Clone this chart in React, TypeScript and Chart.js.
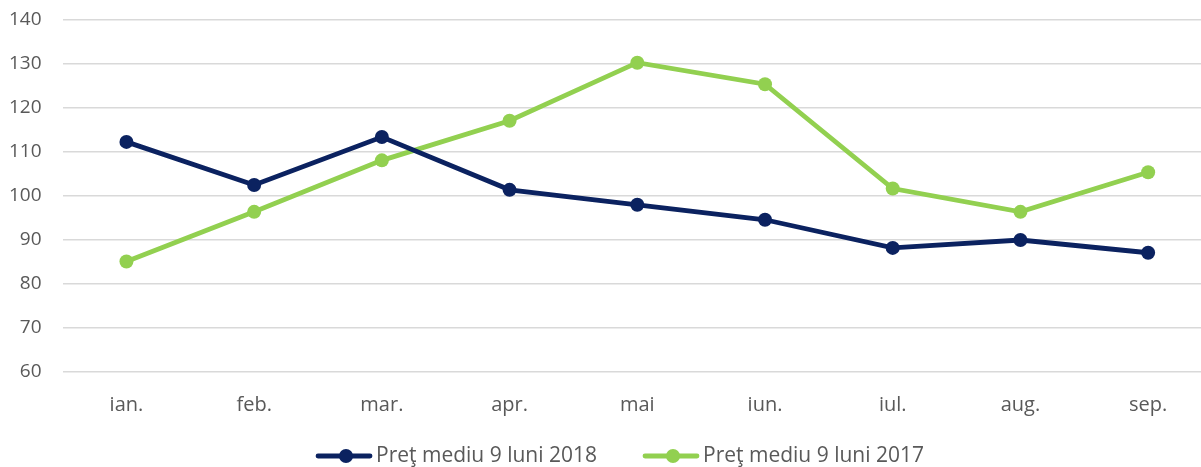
import React, { useEffect, useRef } from "react";
import { Chart, registerables } from "chart.js";

Chart.register(...registerables);

const categories = ["ian.", "feb.", "mar.", "apr.", "mai", "iun.", "iul.", "aug.", "sep."];
const series2018 = [112.3, 102.5, 113.4, 101.4, 98.0, 94.6, 88.2, 90.0, 87.1];
const series2017 = [85.1, 96.4, 108.1, 117.1, 130.3, 125.4, 101.7, 96.4, 105.4];
const label2018 = "Preţ mediu 9 luni 2018";
const label2017 = "Preţ mediu 9 luni 2017";

const NAVY = "#0b2260";
const GREEN = "#92d050";
const TEXT = "#595959";
const FONT = "'Open Sans', sans-serif";
const TICK_SIZE = 20;
const Y_TICK_SIZE = 19;
const LEGEND_SIZE = 21;

const customLegend = {
  id: "customLegend",
  afterDraw(chart: any) {
    const ctx = chart.ctx as CanvasRenderingContext2D;
    const items = chart.data.datasets.map((ds: any) => ({ text: ds.label as string, color: ds.borderColor as string }));
    ctx.save();
    ctx.font = `${LEGEND_SIZE}px ${FONT}`;
    const lineLen = 56;
    const textGap = 4;
    const itemGap = 46;
    const widths = items.map((it: any) => lineLen + textGap + ctx.measureText(it.text).width);
    const total = widths.reduce((a: number, b: number) => a + b, 0) + itemGap * (items.length - 1);
    let x = 620 - total / 2;
    const y = 456;
    items.forEach((it: any, i: number) => {
      ctx.strokeStyle = it.color;
      ctx.lineWidth = 4.8;
      ctx.lineCap = "round";
      ctx.beginPath();
      ctx.moveTo(x + 2, y);
      ctx.lineTo(x + lineLen - 2, y);
      ctx.stroke();
      ctx.fillStyle = it.color;
      ctx.beginPath();
      ctx.arc(x + lineLen / 2 + 2, y, 7, 0, Math.PI * 2);
      ctx.fill();
      ctx.fillStyle = TEXT;
      ctx.textBaseline = "middle";
      ctx.textAlign = "left";
      ctx.fillText(it.text, x + lineLen + textGap, y);
      x += widths[i] + itemGap;
    });
    ctx.restore();
  },
};

export default function App() {
  const ref = useRef<HTMLCanvasElement | null>(null);
  useEffect(() => {
    document.body.style.margin = "0";
    const chart = new Chart(ref.current!, {
      type: "line",
      data: {
        labels: categories,
        datasets: [
          {
            label: label2018,
            data: series2018,
            borderColor: NAVY,
            backgroundColor: NAVY,
            borderWidth: 4.8,
            pointRadius: 7,
            pointHoverRadius: 7,
            pointBorderWidth: 0,
            tension: 0,
          },
          {
            label: label2017,
            data: series2017,
            borderColor: GREEN,
            backgroundColor: GREEN,
            borderWidth: 4.8,
            pointRadius: 7,
            pointHoverRadius: 7,
            pointBorderWidth: 0,
            tension: 0,
          },
        ],
      },
      options: {
        animation: false,
        responsive: true,
        maintainAspectRatio: false,
        layout: { autoPadding: false, padding: { left: -12, right: 0, top: 20, bottom: 29 } },
        plugins: {
          tooltip: { enabled: false },
          legend: { display: false },
        },
        scales: {
          x: {
            offset: true,
            grid: { display: false, drawTicks: false },
            border: { display: false },
            ticks: { color: TEXT, font: { family: FONT, size: TICK_SIZE }, padding: 21 },
            afterFit: (scale: any) => {
              scale.paddingLeft = 0;
              scale.paddingRight = 0;
            },
          },
          y: {
            min: 60,
            max: 140,
            ticks: { stepSize: 10, color: TEXT, font: { family: FONT, size: Y_TICK_SIZE }, padding: 21 },
            grid: { color: "#d9d9d9", lineWidth: 1.5, drawTicks: false },
            border: { display: false },
            afterFit: (scale: any) => {
              scale.paddingTop = 0;
              scale.paddingBottom = 0;
            },
          },
        },
      },
      plugins: [customLegend],
    });
    return () => chart.destroy();
  }, []);
  return (
    <div style={{ width: 1201, height: 467, overflow: "hidden" }}>
      <div style={{ position: "relative", width: 1212, height: 467 }}>
        <canvas ref={ref} />
      </div>
    </div>
  );
}
